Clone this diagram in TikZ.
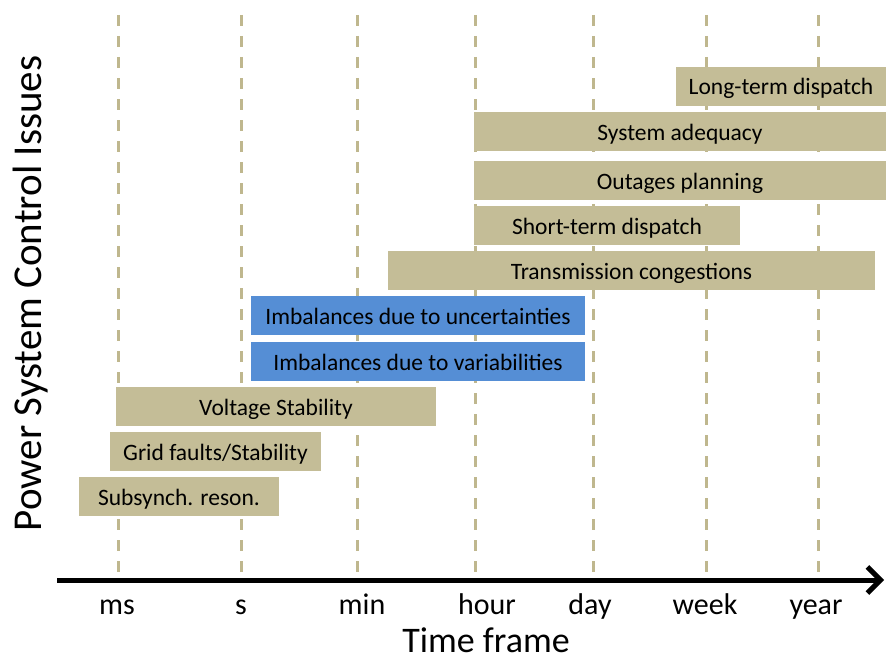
\documentclass[tikz,border=0pt]{standalone}
\usepackage{fontspec}
\setmainfont{Carlito}
\usetikzlibrary{arrows.meta}

\definecolor{issuetan}{HTML}{C4BD97}
\definecolor{issueblue}{HTML}{558ED5}
\definecolor{gridtan}{HTML}{BFB78E}

\tikzset{
  issue/.style={fill=issuetan, inner sep=0pt, text height=28pt, text depth=11pt,
    font=\fontsize{23.5}{27}\selectfont},
  blueissue/.style={issue, fill=issueblue},
  gridline/.style={gridtan, line width=3pt, dash pattern=on 11pt off 10pt},
  ticklabel/.style={anchor=base, font=\fontsize{30}{34}\selectfont}
}

\begin{document}
\begin{tikzpicture}[x=1pt, y=-1pt]
  \useasboundingbox (0,0) rectangle (886,661);

  % Time scale grid (dashed)
  \foreach \x/\lx/\lbl in {118/117/ms, 241/241/s, 357/362/min, 475/487/hour,
                            593/590/day, 706/705/week, 818/816/year} {
    \draw [gridline] (\x,15) -- (\x,576);
    \node [ticklabel] (tick-\lbl) at (\lx,614) {\lbl};
  }

  % Control issues (tan)
  \node [issue, minimum width=210pt] (longterm)   at (781,86.5)   {Long-term dispatch};
  \node [issue, minimum width=412pt] (adequacy)   at (680,131.5)  {System adequacy};
  \node [issue, minimum width=412pt] (outages)    at (680,180.5)  {Outages planning};
  \node [issue, minimum width=266pt] (shortterm)  at (607,225.5)  {Short-term dispatch};
  \node [issue, minimum width=487pt] (congestion) at (631.5,270.5) {Transmission congestions};

  % Imbalances (blue)
  \node [blueissue, minimum width=334pt] (uncertain) at (418,315.5) {Imbalances due to uncertainties};
  \node [blueissue, minimum width=334pt] (variable)  at (418,361.5) {Imbalances due to variabilities};

  % Fast dynamics
  \node [issue, minimum width=320pt] (voltage)  at (276,406.5)   {Voltage Stability};
  \node [issue, minimum width=211pt] (faults)   at (215.5,451.5) {Grid faults/Stability};
  \node [issue, minimum width=200pt] (subsynch) at (179,496.5)   {Subsynch. reson.};

  % Time axis
  \coordinate (axisstart) at (57,580);
  \coordinate (axisend) at (884,580);
  \draw [line width=5pt, -{Straight Barb[length=13pt, width=26pt]}] (axisstart) -- (axisend);

  % Axis titles
  \node [anchor=base, font=\fontsize{36}{40}\selectfont] (xtitle) at (486,652) {Time frame};
  \node [anchor=base, rotate=90, font=\fontsize{41}{45}\selectfont] (ytitle) at (41,293.5) {Power System Control Issues};
\end{tikzpicture}
\end{document}
